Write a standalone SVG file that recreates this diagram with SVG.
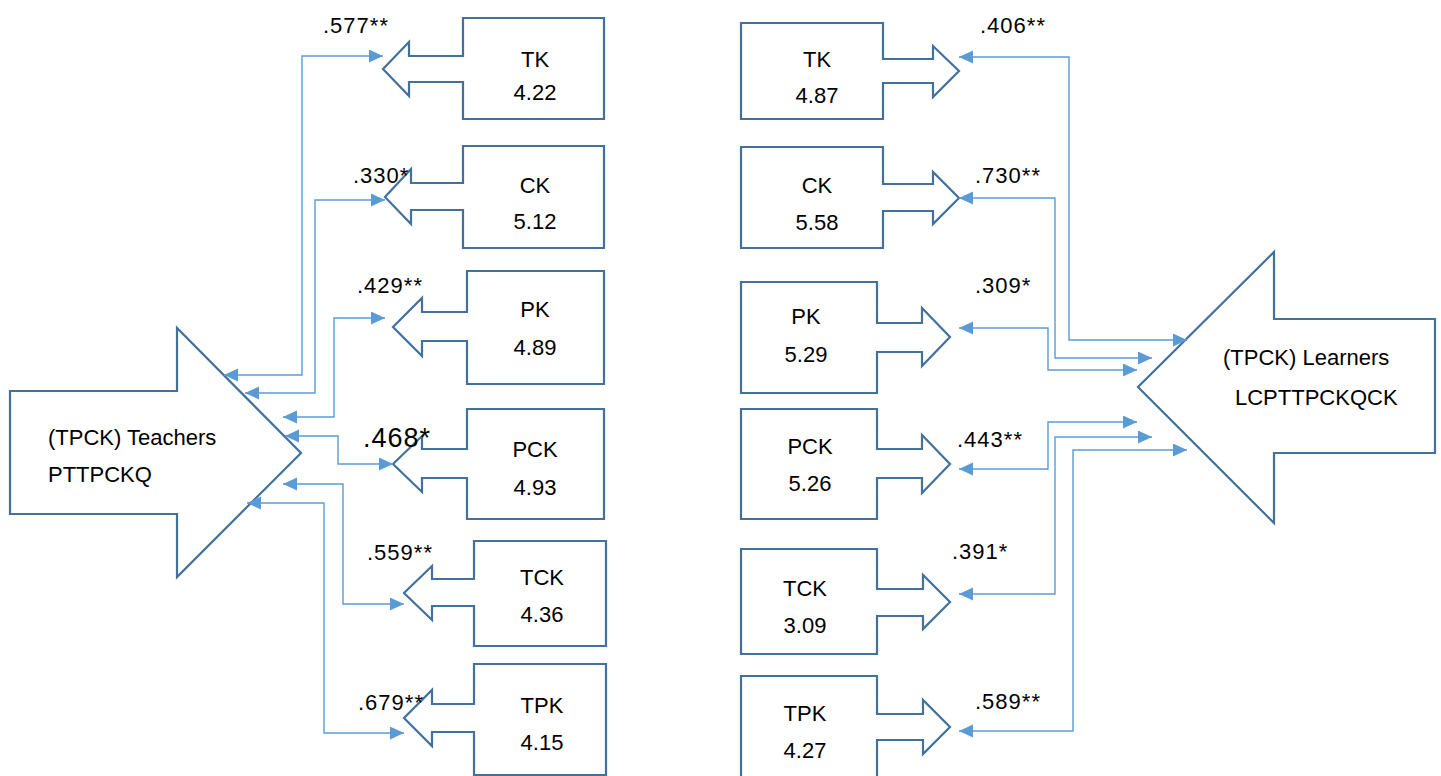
<svg xmlns="http://www.w3.org/2000/svg" width="1441" height="776" viewBox="0 0 1441 776">
<style>
.shape{fill:#ffffff;stroke:#41719C;stroke-width:2.2;stroke-linejoin:miter}
.conn{fill:none;stroke:#5B9BD5;stroke-width:1.4;marker-start:url(#ah);marker-end:url(#ah)}
text{font-family:"Liberation Sans",Arial,sans-serif;font-size:22px;fill:#000}
.c{text-anchor:middle}
.lb{letter-spacing:1px}
</style>
<defs>
<marker id="ah" markerUnits="userSpaceOnUse" markerWidth="15" markerHeight="14" refX="14" refY="6.5" orient="auto-start-reverse" viewBox="0 0 15 14">
<path d="M0,0 L14,6.5 L0,13 Z" fill="#5B9BD5"/>
</marker>
</defs>
<rect width="1441" height="776" fill="#ffffff"/>
<g id="teachers">
<path class="shape" d="M10,391 H177 V328 L301,453 L177,577 V514 H10 Z"/>
<text x="48" y="445">(TPCK) Teachers</text>
<text x="48" y="482">PTTPCKQ</text>
</g>
<g id="learners">
<path class="shape" d="M1435,319 H1274 V252 L1138,387 L1274,523 V453 H1435 Z"/>
<text x="1223" y="365">(TPCK) Learners</text>
<text x="1235" y="405">LCPTTPCKQCK</text>
</g>
<g id="t-tk">
<path class="shape" d="M604,18 H463 V56 H409 V42 L383,69 L409,96 V82 H463 V119 H604 Z"/>
<text class="c" x="535" y="67">TK</text><text class="c" x="535" y="100">4.22</text>
</g>
<g id="t-ck">
<path class="shape" d="M604,146 H463 V183 H411 V169 L385,197 L411,224 V210 H463 V248 H604 Z"/>
<text class="c" x="535" y="193">CK</text><text class="c" x="535" y="229">5.12</text>
</g>
<g id="t-pk">
<path class="shape" d="M604,271 H467 V312 H422 V298 L393,327 L422,356 V341 H467 V384 H604 Z"/>
<text class="c" x="535" y="317">PK</text><text class="c" x="535" y="355">4.89</text>
</g>
<g id="t-pck">
<path class="shape" d="M604,409 H467 V449 H422 V436 L393,464 L422,492 V478 H467 V519 H604 Z"/>
<text class="c" x="535" y="457">PCK</text><text class="c" x="535" y="495">4.93</text>
</g>
<g id="t-tck">
<path class="shape" d="M606,541 H474 V579 H432 V566 L404,593 L432,620 V606 H474 V646 H606 Z"/>
<text class="c" x="542" y="585">TCK</text><text class="c" x="542" y="622">4.36</text>
</g>
<g id="t-tpk">
<path class="shape" d="M606,664 H474 V704 H432 V690 L404,718 L432,746 V732 H474 V775 H606 Z"/>
<text class="c" x="542" y="713">TPK</text><text class="c" x="542" y="750">4.15</text>
</g>
<g id="l-tk">
<path class="shape" d="M741,23 H883 V59 H933 V46 L959,71 L933,97 V83 H883 V119 H741 Z"/>
<text class="c" x="817" y="67">TK</text><text class="c" x="817" y="103">4.87</text>
</g>
<g id="l-ck">
<path class="shape" d="M741,147 H883 V184 H933 V172 L959,198 L933,224 V211 H883 V248 H741 Z"/>
<text class="c" x="817" y="193">CK</text><text class="c" x="817" y="230">5.58</text>
</g>
<g id="l-pk">
<path class="shape" d="M741,282 H877 V323 H922 V308 L950,337 L922,366 V352 H877 V393 H741 Z"/>
<text class="c" x="806" y="324">PK</text><text class="c" x="806" y="362">5.29</text>
</g>
<g id="l-pck">
<path class="shape" d="M741,409 H877 V449 H922 V435 L950,464 L922,493 V478 H877 V519 H741 Z"/>
<text class="c" x="810" y="454">PCK</text><text class="c" x="810" y="491">5.26</text>
</g>
<g id="l-tck">
<path class="shape" d="M741,549 H877 V589 H923 V575 L950,602 L923,629 V616 H877 V654 H741 Z"/>
<text class="c" x="805" y="596">TCK</text><text class="c" x="805" y="633">3.09</text>
</g>
<g id="l-tpk">
<path class="shape" d="M741,676 H877 V714 H923 V700 L950,727 L923,754 V740 H877 V800 H741 Z"/>
<text class="c" x="805" y="721">TPK</text><text class="c" x="805" y="758">4.27</text>
</g>
<g id="connectors">
<path class="conn" d="M383,56 H302 V375 H224"/>
<path class="conn" d="M385,200 H315 V393 H245"/>
<path class="conn" d="M385,318 H334 V417 H283"/>
<path class="conn" d="M393,464 H338 V436 H285"/>
<path class="conn" d="M404,604 H343 V484 H283"/>
<path class="conn" d="M404,733 H324 V503 H247"/>
<path class="conn" d="M959,57 H1069 V340 H1187"/>
<path class="conn" d="M959,198 H1055 V358 H1152"/>
<path class="conn" d="M959,328 H1048 V370 H1137"/>
<path class="conn" d="M959,469 H1048 V422 H1137"/>
<path class="conn" d="M959,594 H1055 V437 H1152"/>
<path class="conn" d="M959,731 H1073 V450 H1187"/>
</g>
<g id="labels">
<text class="lb" x="323" y="33">.577**</text>
<text class="lb" x="353" y="183">.330*</text>
<text class="lb" x="357" y="293">.429**</text>
<text class="lb" x="363" y="447" style="font-size:27px">.468*</text>
<text class="lb" x="367" y="560">.559**</text>
<text class="lb" x="358" y="710">.679**</text>
<text class="lb" x="980" y="33">.406**</text>
<text class="lb" x="975" y="183">.730**</text>
<text class="lb" x="975" y="293">.309*</text>
<text class="lb" x="957" y="447">.443**</text>
<text class="lb" x="952" y="559">.391*</text>
<text class="lb" x="975" y="709">.589**</text>
</g>
</svg>
